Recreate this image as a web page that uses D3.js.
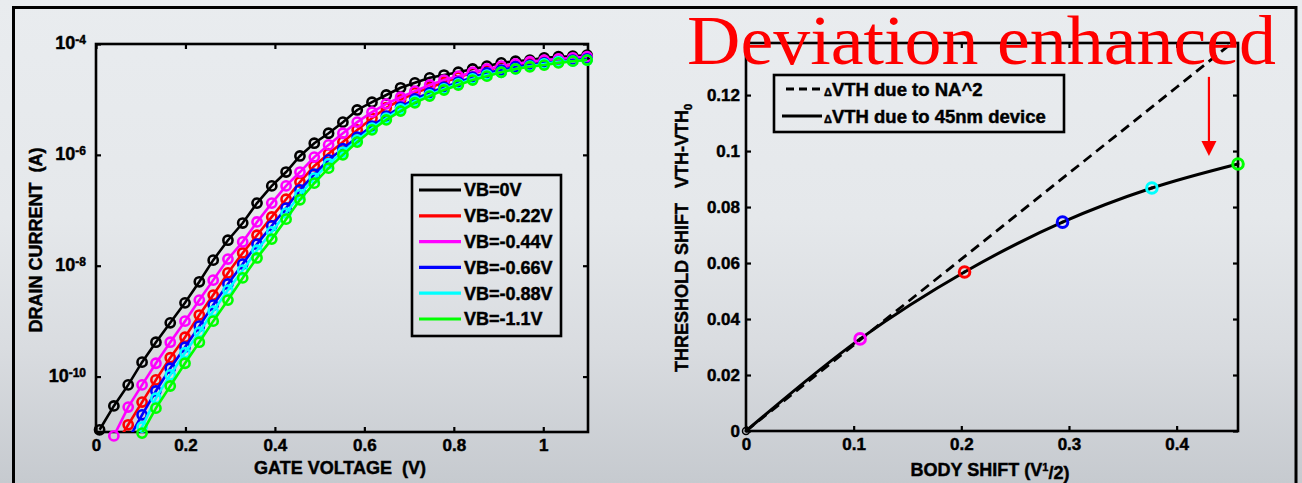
<!DOCTYPE html>
<html>
<head>
<meta charset="utf-8">
<script src="https://cdn.jsdelivr.net/npm/d3@7"></script>
<style>
html,body{margin:0;padding:0;overflow:hidden;background:#e4e7ea;}
text{font-family:"Liberation Sans",Arial,sans-serif;font-weight:bold;fill:#000;stroke:#000;stroke-width:0.45px;}
</style>
</head>
<body>
<script>
// ---------- Left chart data: drain current vs gate voltage ----------
const gateV = [0.008, 0.04, 0.072, 0.103, 0.134, 0.166, 0.199, 0.231, 0.262, 0.295, 0.328, 0.36, 0.393, 0.425, 0.456, 0.488, 0.52, 0.552, 0.584, 0.617, 0.649, 0.681, 0.713, 0.746, 0.778, 0.81, 0.842, 0.874, 0.906, 0.938, 0.97, 1.002, 1.034, 1.066, 1.098];
// log10 of drain current (A)
const logId_VB0    = [-10.96,-10.53,-10.15,-9.74,-9.38,-9.03,-8.67,-8.29,-7.90,-7.54,-7.23,-6.87,-6.56,-6.31,-6.02,-5.79,-5.61,-5.41,-5.19,-5.05,-4.92,-4.79,-4.70,-4.61,-4.56,-4.51,-4.45,-4.40,-4.34,-4.31,-4.29,-4.25,-4.23,-4.22,-4.20];
const logId_VB022  = [-11.69,-11.29,-10.87,-10.46,-10.06,-9.66,-9.29,-8.89,-8.53,-8.13,-7.77,-7.45,-7.12,-6.80,-6.49,-6.20,-5.98,-5.77,-5.55,-5.34,-5.15,-5.01,-4.88,-4.79,-4.69,-4.60,-4.52,-4.47,-4.41,-4.38,-4.34,-4.31,-4.29,-4.27,-4.25];
const logId_VB044  = [-11.50,-11.07,-10.55,-10.15,-9.76,-9.38,-9.00,-8.62,-8.26,-7.88,-7.57,-7.21,-6.87,-6.56,-6.31,-6.04,-5.82,-5.61,-5.41,-5.23,-5.08,-4.96,-4.85,-4.74,-4.65,-4.58,-4.51,-4.45,-4.40,-4.36,-4.32,-4.29,-4.27,-4.25,-4.23];
const logId_VB066  = [-12.05,-11.60,-11.14,-10.69,-10.26,-9.85,-9.47,-9.09,-8.71,-8.33,-7.97,-7.61,-7.28,-6.96,-6.63,-6.35,-6.09,-5.89,-5.68,-5.48,-5.30,-5.14,-4.99,-4.88,-4.78,-4.69,-4.60,-4.52,-4.47,-4.41,-4.38,-4.34,-4.32,-4.29,-4.27];
const logId_VB088  = [-12.23,-11.78,-11.34,-10.91,-10.39,-9.97,-9.57,-9.20,-8.82,-8.44,-8.08,-7.72,-7.39,-7.05,-6.72,-6.42,-6.16,-5.95,-5.73,-5.52,-5.34,-5.17,-5.03,-4.92,-4.81,-4.72,-4.63,-4.56,-4.51,-4.45,-4.40,-4.36,-4.32,-4.31,-4.29];
const logId_VB110  = [-12.50,-12.05,-11.60,-11.02,-10.57,-10.17,-9.76,-9.38,-9.00,-8.62,-8.22,-7.86,-7.52,-7.16,-6.81,-6.51,-6.24,-6.00,-5.77,-5.55,-5.37,-5.21,-5.06,-4.94,-4.83,-4.74,-4.65,-4.58,-4.51,-4.45,-4.41,-4.38,-4.34,-4.31,-4.29];
const seriesLabels = ["VB=0V","VB=-0.22V","VB=-0.44V","VB=-0.66V","VB=-0.88V","VB=-1.1V"];
const seriesColors = ["#000000","#ff0000","#ff00ff","#0000ff","#00ffff","#00ff00"];
const seriesValues = [logId_VB0, logId_VB022, logId_VB044, logId_VB066, logId_VB088, logId_VB110];
const leftXTicks = [0, 0.2, 0.4, 0.6, 0.8, 1];
const leftYTickExp = [-4, -6, -8, -10];

// ---------- Right chart data: threshold shift vs body shift ----------
const bodyShift   = [0, 0.106, 0.203, 0.294, 0.377, 0.457];
const vthShift45  = [0, 0.0329, 0.0568, 0.0746, 0.0868, 0.0954];
const pointColors = ["#000000","#ff00ff","#ff0000","#0000ff","#00ffff","#00ff00"];
const bodyShiftNA = [0, 0.1, 0.2, 0.3, 0.4, 0.457];
const vthShiftNA  = [0, 0.0307, 0.0614, 0.0921, 0.1228, 0.1403];
const rightXTicks = [0, 0.1, 0.2, 0.3, 0.4];
const rightYTicks = [0, 0.02, 0.04, 0.06, 0.08, 0.1, 0.12];
const arrowX = [0.43, 0.43];
const arrowY = [0.1265, 0.0982];

const W = 1302, H = 483;
const svg = d3.select("body").append("svg").attr("width", W).attr("height", H);
const defs = svg.append("defs");
const bg = defs.append("linearGradient").attr("id","bg").attr("x1",0).attr("y1",0).attr("x2",0).attr("y2",1);
[[0,"#e9ecef"],[0.45,"#e5e8eb"],[0.72,"#d9dce0"],[1,"#c6cacf"]].forEach(([o,c])=>bg.append("stop").attr("offset",o).attr("stop-color",c));
svg.append("rect").attr("width",W).attr("height",H).attr("fill","url(#bg)");
svg.append("rect").attr("x",13.5).attr("y",7.5).attr("width",1282.5).attr("height",520)
  .attr("fill","none").attr("stroke","#000").attr("stroke-width",3);

// ---------- Left chart ----------
const L = {x0:96, x1:588, y0:44, y1:432};
const xL = d3.scaleLinear().domain([0,1.1]).range([L.x0,L.x1]);
const yL = d3.scaleLog().domain([1e-11,1e-4]).range([L.y1,L.y0]);
defs.append("clipPath").attr("id","clipL").append("rect")
  .attr("x",L.x0).attr("y",L.y0).attr("width",L.x1-L.x0).attr("height",L.y1-L.y0);

const gL = svg.append("g");
const fs = "17px";
function styleAxis(g){ g.select(".domain").remove(); g.selectAll("line").attr("stroke","#000").attr("stroke-width",2.2); g.selectAll("text").style("font-size",fs).attr("fill","#000"); }
const fmtX = d => d===0 ? "0" : String(+d.toFixed(2));
gL.append("g").attr("transform",`translate(0,${L.y1})`)
  .call(d3.axisBottom(xL).tickValues(leftXTicks).tickSize(-5).tickSizeOuter(0).tickPadding(7).tickFormat(fmtX)).call(styleAxis);
gL.append("g").attr("transform",`translate(0,${L.y0})`)
  .call(d3.axisTop(xL).tickValues(leftXTicks).tickSize(-5).tickSizeOuter(0).tickFormat("")).call(styleAxis);
const yTickVals = leftYTickExp.map(e=>Math.pow(10,e));
gL.append("g").attr("transform",`translate(${L.x0},0)`)
  .call(d3.axisLeft(yL).tickValues(yTickVals).tickSize(-5).tickSizeOuter(0).tickFormat("")).call(styleAxis);
gL.append("g").attr("transform",`translate(${L.x1},0)`)
  .call(d3.axisRight(yL).tickValues(yTickVals).tickSize(-5).tickSizeOuter(0).tickFormat("")).call(styleAxis);
leftYTickExp.forEach(e=>{
  const t = gL.append("text").attr("x",L.x0-10).attr("y",yL(Math.pow(10,e))).attr("dy","0.3em")
    .attr("text-anchor","end").style("font-size","18px").text("10");
  t.append("tspan").attr("dy","-0.45em").style("font-size","12px").text(String(e));
});
gL.append("rect").attr("x",L.x0).attr("y",L.y0).attr("width",L.x1-L.x0).attr("height",L.y1-L.y0)
  .attr("fill","none").attr("stroke","#000").attr("stroke-width",2.6);

const lineL = d3.line().x((d,i)=>xL(gateV[i])).y(d=>yL(Math.pow(10,d)));
seriesValues.forEach((vals,k)=>{
  const g = gL.append("g");
  g.append("path").attr("d",lineL(vals)).attr("clip-path","url(#clipL)")
    .attr("fill","none").attr("stroke",seriesColors[k]).attr("stroke-width",2.6);
  g.selectAll("circle").data(vals.map((v,i)=>({v,i})).filter(d=>d.v>=-11.12)).join("circle")
    .attr("cx",d=>xL(gateV[d.i])).attr("cy",d=>yL(Math.pow(10,d.v))).attr("r",4.6)
    .attr("fill","none").attr("stroke",seriesColors[k]).attr("stroke-width",2.6);
});
// legend
const lgL = gL.append("g");
lgL.append("rect").attr("x",412).attr("y",175).attr("width",149).attr("height",161)
  .attr("fill","none").attr("stroke","#000").attr("stroke-width",2.6);
seriesLabels.forEach((lab,k)=>{
  const y = 190 + k*25.8;
  lgL.append("line").attr("x1",419).attr("x2",461).attr("y1",y).attr("y2",y)
    .attr("stroke",seriesColors[k]).attr("stroke-width",3.2);
  lgL.append("text").attr("x",464).attr("y",y).attr("dy","0.36em").style("font-size","18px").text(lab);
});
gL.append("text").attr("x",340).attr("y",474).attr("text-anchor","middle").style("font-size","18px")
  .style("white-space","pre").text("GATE VOLTAGE  (V)");
gL.append("text").attr("transform","translate(42,240) rotate(-90)").attr("text-anchor","middle").style("font-size","18px")
  .style("white-space","pre").text("DRAIN CURRENT  (A)");

// ---------- Right chart ----------
const R = {x0:746, x1:1238, y0:43, y1:431};
const xR = d3.scaleLinear().domain([0,0.457]).range([R.x0,R.x1]);
const yR = d3.scaleLinear().domain([0,0.1386]).range([R.y1,R.y0]);
defs.append("clipPath").attr("id","clipR").append("rect")
  .attr("x",R.x0).attr("y",R.y0).attr("width",R.x1-R.x0).attr("height",R.y1-R.y0);
const gR = svg.append("g");
gR.append("g").attr("transform",`translate(0,${R.y1})`)
  .call(d3.axisBottom(xR).tickValues(rightXTicks).tickSize(-5).tickSizeOuter(0).tickPadding(7).tickFormat(fmtX)).call(styleAxis);
gR.append("g").attr("transform",`translate(0,${R.y0})`)
  .call(d3.axisTop(xR).tickValues(rightXTicks).tickSize(-5).tickSizeOuter(0).tickFormat("")).call(styleAxis);
gR.append("g").attr("transform",`translate(${R.x0},0)`)
  .call(d3.axisLeft(yR).tickValues(rightYTicks).tickSize(-5).tickSizeOuter(0).tickPadding(6).tickFormat(fmtX)).call(styleAxis);
gR.append("g").attr("transform",`translate(${R.x1},0)`)
  .call(d3.axisRight(yR).tickValues(rightYTicks).tickSize(-5).tickSizeOuter(0).tickFormat("")).call(styleAxis);
gR.append("rect").attr("x",R.x0).attr("y",R.y0).attr("width",R.x1-R.x0).attr("height",R.y1-R.y0)
  .attr("fill","none").attr("stroke","#000").attr("stroke-width",2.6);

const lineR = d3.line().x(d=>xR(d[0])).y(d=>yR(d[1]));
gR.append("path").attr("d",lineR(bodyShiftNA.map((x,i)=>[x,vthShiftNA[i]]))).attr("clip-path","url(#clipR)")
  .attr("fill","none").attr("stroke","#000").attr("stroke-width",2.8).attr("stroke-dasharray","10,6");
gR.append("path").attr("d",lineR.curve(d3.curveMonotoneX)(bodyShift.map((x,i)=>[x,vthShift45[i]])))
  .attr("fill","none").attr("stroke","#000").attr("stroke-width",3);
bodyShift.forEach((x,i)=>{
  gR.append("circle").attr("cx",xR(x)).attr("cy",yR(vthShift45[i])).attr("r",i===0?3.5:5.3)
    .attr("fill","none").attr("stroke",pointColors[i]).attr("stroke-width",i===0?1.5:3);
  gR.append("circle").attr("cx",xR(x)).attr("cy",yR(vthShift45[i])).attr("r",1.4).attr("fill","#000");
});
// legend
const lgR = gR.append("g");
lgR.append("rect").attr("x",774).attr("y",75).attr("width",290).attr("height",57)
  .attr("fill","none").attr("stroke","#000").attr("stroke-width",2.6);
lgR.append("line").attr("x1",786).attr("x2",822).attr("y1",89).attr("y2",89)
  .attr("stroke","#000").attr("stroke-width",2.8).attr("stroke-dasharray","8,5");
lgR.append("line").attr("x1",782).attr("x2",822).attr("y1",116).attr("y2",116)
  .attr("stroke","#000").attr("stroke-width",3);
[["VTH due to NA^2",89],["VTH due to 45nm device",116]].forEach(([t,y])=>{
  const tx = lgR.append("text").attr("x",824).attr("y",y).attr("dy","0.36em").style("font-size","18.5px");
  tx.append("tspan").style("font-size","11px").text("Δ");
  tx.append("tspan").text(t);
});
gR.append("text").attr("x",990).attr("y",476).attr("text-anchor","middle").style("font-size","18px")
  .call(t=>{ t.append("tspan").text("BODY SHIFT (V"); t.append("tspan").attr("dy","-0.45em").style("font-size","11px").text("1"); t.append("tspan").attr("dy","0.45em").text("/2)"); });
gR.append("text").attr("transform","translate(688,238) rotate(-90)").attr("text-anchor","middle").style("font-size","18px")
  .style("white-space","pre")
  .call(t=>{ t.append("tspan").text("THRESHOLD SHIFT   VTH-VTH"); t.append("tspan").attr("dy","0.35em").style("font-size","11px").text("0"); });

// annotation
svg.append("text").attr("x",687).attr("y",64).style("font-family",'"Liberation Serif","Times New Roman",serif')
  .style("font-weight","normal").style("font-size","70px").style("stroke","none").style("fill","#ff0000")
  .attr("textLength",589).attr("lengthAdjust","spacingAndGlyphs").text("Deviation enhanced");
svg.append("line").attr("x1",xR(arrowX[0])).attr("x2",xR(arrowX[1])).attr("y1",yR(arrowY[0])).attr("y2",yR(arrowY[1])-14)
  .attr("stroke","#ff0000").attr("stroke-width",2.2);
svg.append("path").attr("d",`M${xR(arrowX[1])-7.5},${yR(arrowY[1])-15}L${xR(arrowX[1])+7.5},${yR(arrowY[1])-15}L${xR(arrowX[1])},${yR(arrowY[1])}Z`)
  .attr("fill","#ff0000");
</script>
</body>
</html>
